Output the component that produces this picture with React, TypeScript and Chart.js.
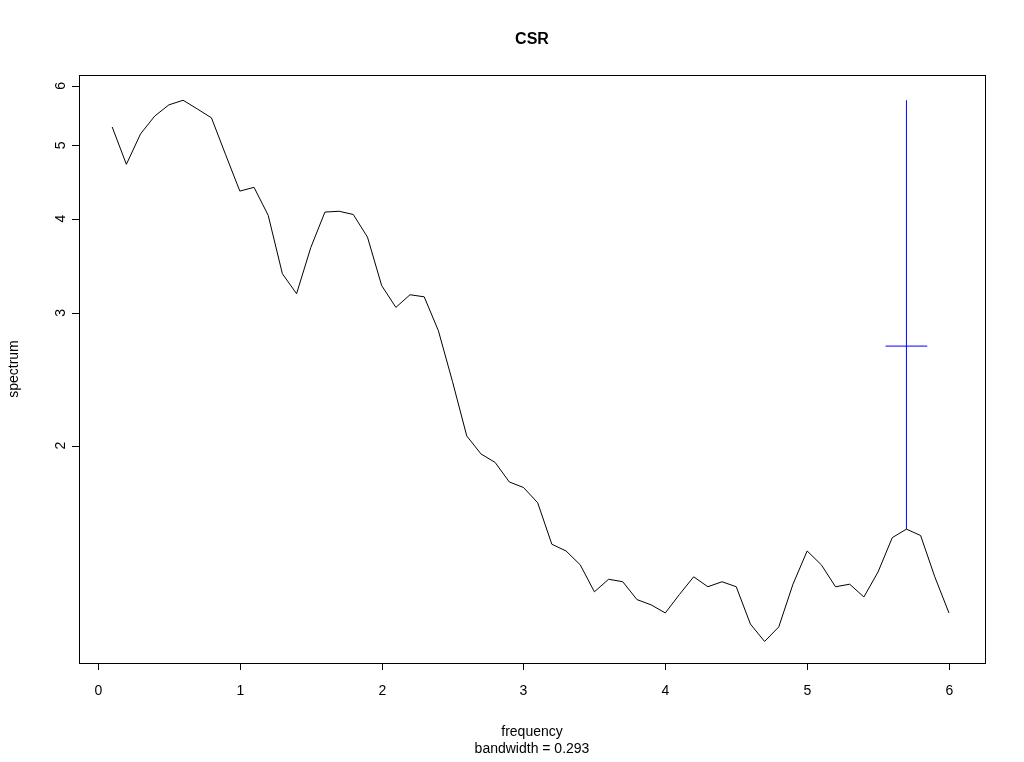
import { useEffect, useRef } from "react";
import { Chart, registerables } from "chart.js";

Chart.register(...registerables);

const freq = [0.1, 0.2, 0.3, 0.4, 0.5, 0.6, 0.7, 0.8, 0.9, 1.0, 1.1, 1.2, 1.3, 1.4, 1.5, 1.6, 1.7, 1.8, 1.9, 2.0,
  2.1, 2.2, 2.3, 2.4, 2.5, 2.6, 2.7, 2.8, 2.9, 3.0, 3.1, 3.2, 3.3, 3.4, 3.5, 3.6, 3.7, 3.8, 3.9, 4.0,
  4.1, 4.2, 4.3, 4.4, 4.5, 4.6, 4.7, 4.8, 4.9, 5.0, 5.1, 5.2, 5.3, 5.4, 5.5, 5.6, 5.7, 5.8, 5.9, 6.0];
const spectrum = [5.29, 4.72, 5.18, 5.47, 5.66, 5.74, 5.59, 5.44, 4.86, 4.35, 4.4, 4.04, 3.38, 3.18, 3.66, 4.08, 4.09, 4.05, 3.78, 3.26,
  3.05, 3.17, 3.15, 2.84, 2.43, 2.06, 1.95, 1.9, 1.79, 1.76, 1.68, 1.48, 1.45, 1.39, 1.28, 1.33, 1.32, 1.25, 1.23, 1.2,
  1.27, 1.34, 1.3, 1.32, 1.3, 1.16, 1.1, 1.15, 1.31, 1.45, 1.39, 1.3, 1.31, 1.26, 1.36, 1.51, 1.55, 1.52, 1.34, 1.2];

// confidence interval bar
const ciFreq = 5.7;
const ciLower = 1.55;
const ciUpper = 5.74;
const ciCentre = 2.71;
const ciHalfWidth = 0.147;

const xTicks = [0, 1, 2, 3, 4, 5, 6];
const yTicks = [2, 3, 4, 5, 6];

const FONT = "Liberation Sans, Arial, sans-serif";

const rAxesPlugin = {
  id: "rAxes",
  afterDraw(chart: Chart) {
    const { ctx, chartArea: a } = chart;
    const xs = chart.scales.x;
    const ys = chart.scales.y;
    ctx.save();
    ctx.strokeStyle = "#000";
    ctx.lineWidth = 1;
    ctx.strokeRect(a.left + 0.5, a.top + 0.5, a.right - a.left, a.bottom - a.top);
    ctx.fillStyle = "#000";
    ctx.font = `14px ${FONT}`;
    // x axis
    const x0 = xs.getPixelForValue(xTicks[0]);
    const x1 = xs.getPixelForValue(xTicks[xTicks.length - 1]);
    ctx.beginPath();
    ctx.moveTo(x0, a.bottom + 0.5);
    ctx.lineTo(x1, a.bottom + 0.5);
    ctx.textAlign = "center";
    ctx.textBaseline = "middle";
    xTicks.forEach((t) => {
      const px = Math.round(xs.getPixelForValue(t)) + 0.5;
      ctx.moveTo(px, a.bottom);
      ctx.lineTo(px, a.bottom + 7);
      ctx.fillText(String(t), px, a.bottom + 28);
    });
    // y axis
    const y0 = ys.getPixelForValue(yTicks[0]);
    const y1 = ys.getPixelForValue(yTicks[yTicks.length - 1]);
    ctx.moveTo(a.left + 0.5, y0);
    ctx.lineTo(a.left + 0.5, y1);
    yTicks.forEach((t) => {
      const py = Math.round(ys.getPixelForValue(t)) + 0.5;
      ctx.moveTo(a.left, py);
      ctx.lineTo(a.left - 7, py);
    });
    ctx.stroke();
    yTicks.forEach((t) => {
      const py = ys.getPixelForValue(t);
      ctx.save();
      ctx.translate(a.left - 18, py);
      ctx.rotate(-Math.PI / 2);
      ctx.fillText(String(t), 0, 0);
      ctx.restore();
    });
    // titles
    ctx.font = `bold 16px ${FONT}`;
    ctx.fillText("CSR", (a.left + a.right) / 2, 40);
    ctx.font = `14px ${FONT}`;
    ctx.fillText("frequency", (a.left + a.right) / 2, 732);
    ctx.fillText("bandwidth = 0.293", (a.left + a.right) / 2, 749);
    ctx.save();
    ctx.translate(14, (a.top + a.bottom) / 2);
    ctx.rotate(-Math.PI / 2);
    ctx.fillText("spectrum", 0, 0);
    ctx.restore();
    ctx.restore();
  },
};

export default function App() {
  const canvasRef = useRef<HTMLCanvasElement>(null);

  useEffect(() => {
    document.body.style.margin = "0";
    if (!canvasRef.current) return;
    const chart = new Chart(canvasRef.current, {
      type: "line",
      plugins: [rAxesPlugin],
      data: {
        datasets: [
          {
            data: freq.map((f, i) => ({ x: f, y: spectrum[i] })),
            borderColor: "#000",
            borderWidth: 1,
            pointRadius: 0,
            tension: 0,
          },
          {
            data: [{ x: ciFreq, y: ciLower }, { x: ciFreq, y: ciUpper }],
            borderColor: "#0000ff",
            borderWidth: 1,
            pointRadius: 0,
          },
          {
            data: [{ x: ciFreq - ciHalfWidth, y: ciCentre }, { x: ciFreq + ciHalfWidth, y: ciCentre }],
            borderColor: "#0000ff",
            borderWidth: 1,
            pointRadius: 0,
          },
        ],
      },
      options: {
        animation: false,
        responsive: false,
        layout: { padding: { left: 79, right: 39, top: 75, bottom: 99 } },
        plugins: { legend: { display: false }, tooltip: { enabled: false } },
        scales: {
          x: { type: "linear", min: -0.134, max: 6.254, display: false },
          y: { type: "logarithmic", min: 1.03, max: 6.2, display: false },
        },
      },
    });
    return () => chart.destroy();
  }, []);

  return <canvas ref={canvasRef} width={1024} height={762} style={{ display: "block" }} />;
}
